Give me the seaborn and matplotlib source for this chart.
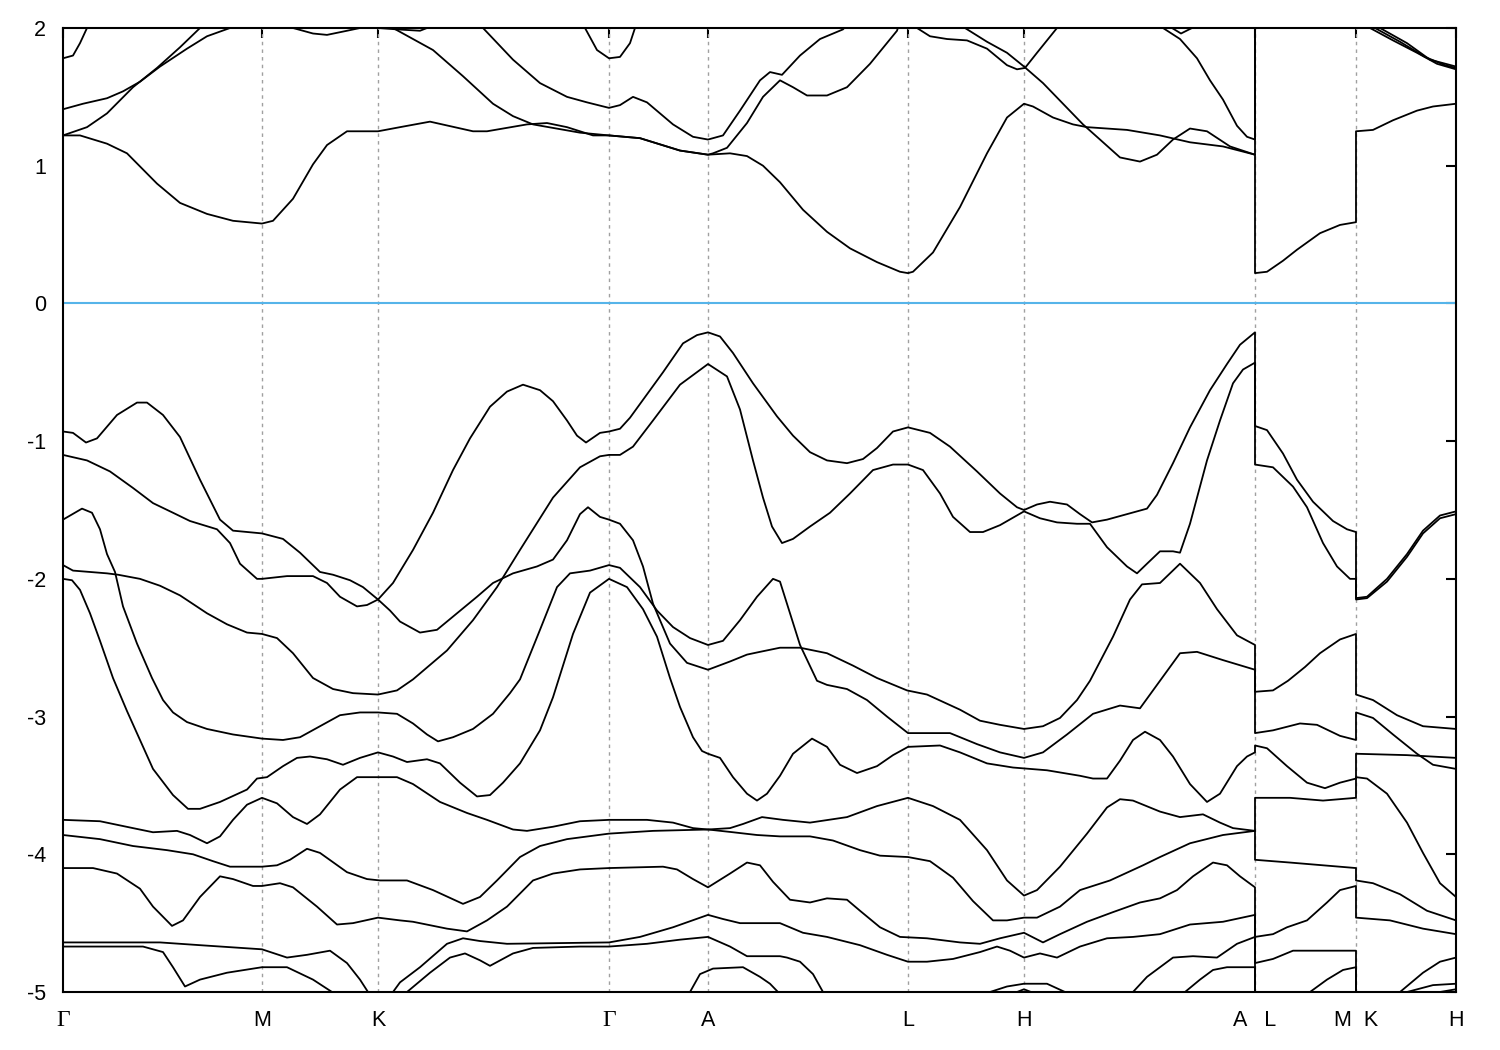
import matplotlib
matplotlib.use("Agg")
import matplotlib.pyplot as plt
import pandas as pd
import seaborn as sns

# ---------------- axis data ----------------
kpoint_pos = [0, 199, 315, 546, 645, 845, 961, 1192, 1293, 1393]
kpoint_labels = ["Γ", "M", "K", "Γ", "A", "L", "H", "A   L", "M  K", "H"]
energy_ticks = [-5, -4, -3, -2, -1, 0, 1, 2]
energy_labels = ["-5", "-4", "-3", "-2", "-1", "0", "1", "2"]

# ---------------- conduction bands (k, E) ----------------
c1_GA = [(0,1.22),(17,1.22),(44,1.16),(64,1.09),(94,0.87),(117,0.73),(144,0.65),(170,0.60),(199,0.58),
         (210,0.60),(230,0.76),(250,1.01),(264,1.15),(284,1.25),(304,1.25),(315,1.25),(337,1.28),(367,1.32),
         (410,1.25),(424,1.25),(464,1.30),(484,1.31),(504,1.28),(530,1.22),(546,1.22),(577,1.20),(617,1.11),
         (645,1.08),(667,1.09),(684,1.07),(700,1.00),(717,0.88),(740,0.68),(764,0.52),(787,0.40),(814,0.30),
         (837,0.23),(845,0.22),(850,0.23),(870,0.37),(897,0.70),(924,1.09),(944,1.35),(961,1.45),(970,1.43),
         (990,1.35),(1010,1.30),(1024,1.28),(1064,1.26),(1097,1.22),(1127,1.17),(1160,1.14),(1192,1.08)]
c1_LM = [(1192,0.22),(1204,0.23),(1220,0.31),(1234,0.39),(1257,0.51),(1277,0.57),(1293,0.59)]
c1_KH = [(1293,1.25),(1310,1.26),(1330,1.33),(1354,1.40),(1370,1.43),(1393,1.45)]
c0 = [(0,1.78),(10,1.80),(17,1.89),(24,2.0),(26,2.05)]
c2a = [(0,1.22),(24,1.28),(44,1.38),(70,1.57),(94,1.71),(117,1.86),(137,2.0),(142,2.05)]
c2b = [(327,2.05),(330,2.0),(370,1.84),(400,1.65),(430,1.45),(450,1.36),(470,1.30),(517,1.24),(546,1.22),
       (577,1.20),(617,1.11),(645,1.08),(650,1.09),(664,1.13),(684,1.31),(700,1.50),(717,1.62),(730,1.57),
       (744,1.51),(764,1.51),(784,1.57),(807,1.74),(834,1.98),(837,2.05)]
c3 = [(0,1.41),(20,1.45),(44,1.49),(60,1.54),(77,1.61),(97,1.72),(124,1.85),(144,1.94),(167,2.0),(173,2.05)]
c4 = [(417,2.05),(420,2.0),(450,1.77),(477,1.60),(504,1.50),(524,1.46),(546,1.42),(557,1.44),(570,1.50),
      (584,1.46),(610,1.30),(630,1.21),(645,1.19),(660,1.22),(677,1.40),(697,1.62),(707,1.68),(719,1.66),
      (737,1.80),(757,1.92),(780,1.99),(787,2.05)]
c5 = [(519,2.05),(522,2.0),(534,1.84),(546,1.78),(557,1.79),(567,1.89),(572,2.0),(574,2.05)]
c6 = [(227,2.05),(230,2.0),(250,1.96),(264,1.95),(284,1.98),(297,2.0),(300,2.05)]
c6b = [(305,2.05),(315,2.0),(334,1.99),(357,1.98),(364,2.0),(367,2.05)]
c7 = [(851,2.05),(854,2.0),(867,1.94),(884,1.92),(904,1.91),(924,1.85),(944,1.73),(954,1.70),(962,1.71),
      (974,1.82),(994,2.0),(997,2.05)]
c8 = [(899,2.05),(902,2.0),(924,1.90),(944,1.82),(961,1.72),(980,1.60),(1000,1.45),(1020,1.30),(1037,1.19),
      (1057,1.06),(1077,1.03),(1094,1.08),(1110,1.19),(1127,1.27),(1144,1.25),(1167,1.14),(1192,1.08),(1192,2.3)]
c9 = [(1097,2.05),(1100,2.0),(1117,1.92),(1134,1.78),(1147,1.62),(1160,1.48),(1174,1.29),(1184,1.21),
      (1192,1.19),(1192,2.3)]
c10 = [(1107,2.05),(1109,2.0),(1118,1.96),(1129,2.0),(1131,2.05)]
t1 = [(1304,2.05),(1307,2.0),(1330,1.91),(1354,1.82),(1374,1.74),(1393,1.70)]
t2 = [(1309,2.05),(1312,2.0),(1337,1.90),(1362,1.79),(1382,1.73),(1393,1.71)]
t3 = [(1314,2.05),(1317,2.0),(1344,1.89),(1367,1.77),(1393,1.72)]

# ---------------- valence bands (k, E) ----------------
v1_GA = [(0,-1.10),(24,-1.14),(47,-1.22),(70,-1.34),(90,-1.45),(110,-1.52),(127,-1.58),(154,-1.64),(167,-1.74),
         (177,-1.89),(194,-2.0),(199,-2.0),(224,-1.98),(250,-1.98),(264,-2.03),(277,-2.13),(294,-2.20),(304,-2.19),
         (315,-2.15),(330,-2.03),(350,-1.79),(370,-1.52),(390,-1.21),(407,-0.98),(427,-0.75),(444,-0.64),(460,-0.59),
         (477,-0.63),(490,-0.71),(504,-0.85),(514,-0.96),(523,-1.01),(537,-0.94),(546,-0.93),(557,-0.91),(567,-0.83),
         (584,-0.66),(600,-0.50),(620,-0.29),(634,-0.23),(645,-0.21),(657,-0.24),(670,-0.36),(690,-0.58),(707,-0.75),
         (714,-0.82),(730,-0.96),(747,-1.08),(764,-1.14),(784,-1.16),(800,-1.13),(814,-1.05),(830,-0.93),(845,-0.90),
         (867,-0.94),(887,-1.04),(914,-1.22),(937,-1.38),(954,-1.48),(961,-1.50),(974,-1.46),(987,-1.44),(1004,-1.46),
         (1017,-1.53),(1029,-1.59),(1044,-1.57),(1064,-1.53),(1084,-1.49),(1094,-1.39),(1110,-1.16),(1127,-0.90),
         (1147,-0.63),(1164,-0.44),(1177,-0.30),(1192,-0.21)]
v1_LM = [(1192,-0.89),(1204,-0.92),(1220,-1.09),(1234,-1.28),(1250,-1.44),(1270,-1.58),(1284,-1.64),(1293,-1.66)]
v1_KH = [(1293,-2.14),(1304,-2.13),(1324,-2.00),(1344,-1.82),(1360,-1.65),(1377,-1.54),(1393,-1.51)]

v2_GA = [(0,-1.90),(10,-1.94),(27,-1.95),(44,-1.96),(55,-1.97),(77,-2.00),(97,-2.05),(117,-2.12),(144,-2.25),
         (164,-2.33),(184,-2.39),(199,-2.40),(214,-2.43),(230,-2.54),(250,-2.72),(270,-2.80),(290,-2.83),(315,-2.84),
         (334,-2.81),(350,-2.73),(384,-2.52),(410,-2.30),(434,-2.06),(457,-1.79),(490,-1.41),(517,-1.19),(537,-1.11),
         (546,-1.10),(557,-1.10),(570,-1.04),(590,-0.85),(617,-0.59),(645,-0.44),(664,-0.53),(677,-0.77),(690,-1.14),
         (700,-1.41),(709,-1.62),(719,-1.74),(730,-1.71),(747,-1.62),(767,-1.52),(787,-1.38),(810,-1.21),(830,-1.17),
         (845,-1.17),(860,-1.21),(877,-1.38),(890,-1.55),(907,-1.66),(920,-1.66),(937,-1.61),(961,-1.51),(977,-1.56),
         (994,-1.59),(1014,-1.60),(1027,-1.60),(1044,-1.77),(1064,-1.91),(1074,-1.96),(1084,-1.89),(1097,-1.80),
         (1110,-1.80),(1117,-1.81),(1127,-1.60),(1144,-1.14),(1157,-0.85),(1170,-0.58),(1180,-0.48),(1192,-0.43)]
v2_LM = [(1192,-1.17),(1210,-1.19),(1230,-1.33),(1244,-1.48),(1260,-1.74),(1274,-1.91),(1287,-2.0),(1293,-2.0)]
v2_KH = [(1293,-2.15),(1304,-2.14),(1324,-2.02),(1344,-1.84),(1360,-1.67),(1377,-1.56),(1393,-1.53)]

v3_GA = [(0,-0.93),(10,-0.94),(23,-1.01),(34,-0.98),(54,-0.81),(74,-0.72),(84,-0.72),(100,-0.81),(117,-0.97),
         (137,-1.28),(157,-1.57),(170,-1.65),(199,-1.67),(220,-1.71),(237,-1.81),(257,-1.95),(270,-1.97),(287,-2.01),
         (300,-2.06),(315,-2.15),(327,-2.23),(337,-2.31),(357,-2.39),(374,-2.37),(394,-2.25),(414,-2.13),(430,-2.03),
         (450,-1.96),(474,-1.91),(490,-1.86),(504,-1.72),(517,-1.53),(525,-1.48),(537,-1.55),(546,-1.57),(557,-1.60),
         (570,-1.72),(580,-1.91),(590,-2.18),(597,-2.30),(607,-2.47),(624,-2.61),(645,-2.66),(667,-2.60),(684,-2.55),
         (697,-2.53),(717,-2.50),(737,-2.50),(764,-2.54),(790,-2.63),(814,-2.72),(844,-2.81),(864,-2.84),(897,-2.95),
         (917,-3.03),(937,-3.06),(961,-3.09),(980,-3.07),(997,-3.01),(1014,-2.88),(1027,-2.74),(1050,-2.42),
         (1067,-2.15),(1079,-2.04),(1097,-2.03),(1117,-1.89),(1137,-2.03),(1154,-2.22),(1174,-2.41),(1192,-2.48)]
v3_LM = [(1192,-2.82),(1210,-2.81),(1225,-2.74),(1242,-2.64),(1257,-2.54),(1277,-2.44),(1293,-2.40)]
v3_KH = [(1293,-2.84),(1310,-2.88),(1334,-2.99),(1360,-3.07),(1393,-3.09)]

v4_GA = [(0,-1.57),(19,-1.49),(29,-1.52),(37,-1.64),(44,-1.82),(52,-1.95),(60,-2.20),(74,-2.47),(89,-2.72),
         (100,-2.88),(110,-2.97),(124,-3.04),(144,-3.09),(170,-3.13),(199,-3.16),(220,-3.17),(237,-3.15),(257,-3.07),
         (277,-2.99),(297,-2.97),(315,-2.97),(334,-2.98),(350,-3.05),(364,-3.13),(375,-3.18),(390,-3.15),(410,-3.09),
         (430,-2.98),(447,-2.83),(457,-2.73),(477,-2.37),(494,-2.06),(507,-1.96),(527,-1.94),(546,-1.90),(557,-1.92),
         (577,-2.06),(594,-2.23),(610,-2.35),(627,-2.43),(645,-2.48),(660,-2.45),(677,-2.30),(694,-2.13),(710,-2.00),
         (717,-2.02),(727,-2.25),(737,-2.48),(754,-2.74),(764,-2.77),(784,-2.80),(804,-2.88),(824,-3.00),(845,-3.12),
         (887,-3.12),(914,-3.20),(937,-3.26),(961,-3.30),(980,-3.26),(1004,-3.13),(1030,-2.98),(1057,-2.92),
         (1077,-2.94),(1087,-2.84),(1097,-2.74),(1117,-2.54),(1134,-2.53),(1160,-2.59),(1192,-2.66)]
v4_LM = [(1192,-3.12),(1210,-3.10),(1237,-3.05),(1254,-3.06),(1277,-3.14),(1293,-3.17)]
v4_KH = [(1293,-2.97),(1310,-3.01),(1330,-3.13),(1354,-3.27),(1370,-3.35),(1393,-3.38)]

v5_GA = [(0,-2.00),(9,-2.01),(17,-2.08),(27,-2.25),(37,-2.45),(50,-2.72),(64,-2.96),(77,-3.17),(90,-3.38),
         (110,-3.57),(125,-3.67),(137,-3.67),(157,-3.62),(184,-3.53),(194,-3.45),(204,-3.44),(220,-3.36),(234,-3.30),
         (247,-3.29),(264,-3.31),(280,-3.35),(297,-3.30),(315,-3.26),(330,-3.29),(344,-3.33),(364,-3.31),(377,-3.34),
         (397,-3.48),(414,-3.58),(427,-3.57),(440,-3.48),(457,-3.34),(477,-3.10),(490,-2.86),(510,-2.40),(527,-2.10),
         (546,-2.00),(564,-2.06),(580,-2.22),(594,-2.42),(607,-2.72),(617,-2.93),(630,-3.15),(639,-3.25),(645,-3.27),
         (657,-3.30),(670,-3.44),(684,-3.56),(694,-3.61),(704,-3.56),(717,-3.43),(730,-3.27),(749,-3.16),(764,-3.22),
         (777,-3.35),(794,-3.41),(814,-3.36),(830,-3.28),(845,-3.22),(877,-3.21),(897,-3.26),(924,-3.34),(950,-3.37),
         (984,-3.39),(1017,-3.43),(1030,-3.45),(1044,-3.45),(1057,-3.32),(1070,-3.17),(1082,-3.11),(1097,-3.17),
         (1110,-3.29),(1127,-3.49),(1144,-3.62),(1157,-3.56),(1174,-3.36),(1184,-3.29),(1192,-3.26)]
v5_LM = [(1192,-3.21),(1204,-3.23),(1224,-3.36),(1244,-3.48),(1262,-3.52),(1277,-3.48),(1293,-3.45)]
v5_KH = [(1293,-3.27),(1344,-3.28),(1393,-3.30)]

v6_GA = [(0,-3.75),(37,-3.76),(70,-3.81),(90,-3.84),(114,-3.83),(127,-3.86),(144,-3.92),(157,-3.87),(170,-3.75),
         (184,-3.64),(199,-3.59),(214,-3.63),(230,-3.73),(244,-3.78),(257,-3.71),(277,-3.53),(294,-3.44),(317,-3.44),
         (334,-3.44),(350,-3.49),(377,-3.62),(404,-3.70),(424,-3.75),(450,-3.82),(464,-3.83),(490,-3.80),(517,-3.76),
         (546,-3.75),(584,-3.75),(610,-3.77),(630,-3.81),(645,-3.82),(667,-3.81),(680,-3.78),(699,-3.73),(720,-3.75),
         (747,-3.77),(784,-3.73),(814,-3.65),(845,-3.59),(870,-3.65),(897,-3.75),(924,-3.97),(944,-4.19),(961,-4.30),
         (974,-4.26),(997,-4.09),(1024,-3.85),(1044,-3.66),(1057,-3.60),(1070,-3.61),(1097,-3.69),(1117,-3.73),
         (1140,-3.71),(1157,-3.77),(1170,-3.81),(1192,-3.83)]
v6_LM = [(1192,-3.59),(1227,-3.59),(1260,-3.61),(1293,-3.59)]
v6_KH = [(1293,-3.44),(1304,-3.45),(1324,-3.56),(1344,-3.77),(1360,-3.99),(1377,-4.21),(1393,-4.31)]

v7_GA = [(0,-3.86),(37,-3.89),(70,-3.94),(104,-3.97),(130,-4.00),(150,-4.05),(167,-4.09),(199,-4.09),(214,-4.08),
         (227,-4.04),(244,-3.96),(257,-3.99),(284,-4.13),(304,-4.18),(317,-4.19),(344,-4.19),(370,-4.26),(400,-4.36),
         (417,-4.31),(434,-4.19),(457,-4.02),(477,-3.94),(504,-3.89),(546,-3.85),(590,-3.83),(645,-3.82),(670,-3.84),
         (694,-3.86),(717,-3.87),(747,-3.87),(770,-3.90),(797,-3.97),(817,-4.01),(845,-4.02),(867,-4.05),(890,-4.17),
         (910,-4.34),(930,-4.48),(944,-4.48),(961,-4.46),(974,-4.46),(997,-4.38),(1017,-4.26),(1047,-4.19),
         (1080,-4.08),(1097,-4.02),(1127,-3.92),(1160,-3.86),(1192,-3.83)]
v7_LM = [(1192,-4.04),(1227,-4.06),(1260,-4.08),(1293,-4.10)]
v7_KH = [(1293,-4.19),(1310,-4.21),(1337,-4.29),(1364,-4.41),(1393,-4.48)]

v8_GA = [(0,-4.10),(30,-4.10),(54,-4.14),(77,-4.25),(90,-4.38),(109,-4.52),(120,-4.48),(137,-4.31),(157,-4.16),
         (170,-4.18),(190,-4.23),(199,-4.23),(217,-4.21),(230,-4.24),(254,-4.38),(274,-4.51),(290,-4.50),(315,-4.46),
         (337,-4.48),(350,-4.49),(384,-4.54),(404,-4.56),(424,-4.48),(444,-4.38),(470,-4.19),(490,-4.14),(517,-4.11),
         (546,-4.10),(600,-4.09),(614,-4.11),(630,-4.18),(645,-4.24),(667,-4.14),(684,-4.06),(697,-4.08),(710,-4.20),
         (727,-4.33),(747,-4.35),(764,-4.32),(784,-4.33),(797,-4.41),(817,-4.53),(837,-4.60),(864,-4.61),(897,-4.64),
         (917,-4.65),(937,-4.61),(961,-4.57),(980,-4.64),(997,-4.58),(1024,-4.49),(1050,-4.42),(1077,-4.35),
         (1097,-4.32),(1114,-4.26),(1130,-4.16),(1150,-4.06),(1164,-4.08),(1177,-4.16),(1192,-4.24)]
v8_LM = [(1192,-4.60),(1210,-4.58),(1224,-4.53),(1244,-4.48),(1264,-4.35),(1277,-4.26),(1293,-4.23)]
v8_KH = [(1293,-4.46),(1327,-4.48),(1360,-4.54),(1393,-4.58)]

v9_GA = [(323,-5.05),(330,-5.0),(337,-4.93),(357,-4.82),(384,-4.65),(400,-4.61),(417,-4.63),(444,-4.65),
         (546,-4.64),(577,-4.60),(610,-4.53),(645,-4.44),(660,-4.47),(677,-4.50),(717,-4.50),(740,-4.57),(764,-4.60),
         (797,-4.66),(824,-4.73),(845,-4.78),(864,-4.78),(890,-4.76),(917,-4.71),(934,-4.67),(947,-4.70),(961,-4.75),
         (977,-4.72),(994,-4.75),(1017,-4.67),(1044,-4.61),(1070,-4.60),(1097,-4.58),(1127,-4.51),(1160,-4.49),
         (1192,-4.44)]
v9_LM = [(1192,-4.79),(1210,-4.76),(1230,-4.70),(1293,-4.70)]
v9_KH = [(1293,-5.3),(1333,-5.04),(1337,-5.0),(1360,-4.86),(1377,-4.78),(1393,-4.75)]

v10_GA = [(1067,-5.05),(1070,-5.0),(1084,-4.89),(1097,-4.82),(1110,-4.75),(1130,-4.74),(1154,-4.75),(1174,-4.65),
          (1192,-4.60)]
v10_LM = [(1192,-5.3),(1242,-5.04),(1247,-5.0),(1264,-4.91),(1280,-4.84),(1293,-4.82)]
v10_KH = [(1293,-5.3),(1339,-5.03),(1344,-5.0),(1370,-4.95),(1393,-4.94)]

v11_GA = [(1119,-5.05),(1122,-5.0),(1137,-4.91),(1150,-4.84),(1164,-4.82),(1192,-4.82)]
v11_LM = [(1192,-5.3),(1293,-5.3)]
v11_KH = [(1293,-5.3),(1373,-5.03),(1377,-5.0),(1393,-4.98)]

vj = [(0,-4.64),(97,-4.64),(137,-4.66),(199,-4.69),(224,-4.75),(244,-4.73),(267,-4.70),(284,-4.79),(297,-4.91),
      (305,-5.0),(309,-5.05)]
vk = [(0,-4.67),(80,-4.67),(100,-4.71),(110,-4.82),(122,-4.96),(137,-4.91),(164,-4.86),(199,-4.82),(224,-4.82),
      (250,-4.91),(269,-5.0),(273,-5.03)]
vl = [(340,-5.03),(344,-5.0),(367,-4.86),(387,-4.75),(402,-4.72),(417,-4.77),(427,-4.81),(450,-4.72),(470,-4.68),
      (517,-4.67),(546,-4.67),(584,-4.65),(617,-4.62),(645,-4.60),(667,-4.67),(684,-4.74),(717,-4.74),(724,-4.75),
      (737,-4.78),(750,-4.87),(760,-5.0),(763,-5.03)]
vm = [(623,-5.03),(627,-5.0),(637,-4.87),(650,-4.83),(680,-4.82),(697,-4.89),(707,-4.94),(715,-5.0),(718,-5.03)]
vn = [(924,-5.03),(927,-5.0),(944,-4.96),(961,-4.94),(984,-4.94),(1002,-5.0),(1005,-5.03)]
vn2 = [(951,-5.02),(954,-5.0),(961,-4.98),(968,-5.0),(971,-5.02)]

bands = {
    "c1": c1_GA + c1_LM + c1_KH, "c0": c0, "c2a": c2a, "c2b": c2b, "c3": c3, "c4": c4, "c5": c5,
    "c6": c6, "c6b": c6b, "c7": c7, "c8": c8, "c9": c9, "c10": c10, "t1": t1, "t2": t2, "t3": t3,
    "v1": v1_GA + v1_LM + v1_KH, "v2": v2_GA + v2_LM + v2_KH, "v3": v3_GA + v3_LM + v3_KH,
    "v4": v4_GA + v4_LM + v4_KH, "v5": v5_GA + v5_LM + v5_KH, "v6": v6_GA + v6_LM + v6_KH,
    "v7": v7_GA + v7_LM + v7_KH, "v8": v8_GA + v8_LM + v8_KH, "v9": v9_GA + v9_LM + v9_KH,
    "v10": v10_GA + v10_LM + v10_KH, "v11": v11_GA + v11_LM + v11_KH,
    "vj": vj, "vk": vk, "vl": vl, "vm": vm, "vn": vn, "vn2": vn2,
}

rows = []
for name, pts in bands.items():
    for i, (k, e) in enumerate(pts):
        rows.append((name, i, k, e))
df = pd.DataFrame(rows, columns=["band", "order", "k", "E"])

# ---------------- plotting ----------------
sns.set_theme(style="white")
plt.rcParams["font.family"] = ["Liberation Sans", "DejaVu Sans"]
plt.rcParams["axes.unicode_minus"] = False

fig = plt.figure(figsize=(15, 10.5), dpi=100)
ax = fig.add_axes([63 / 1500, 1 - 992 / 1050, (1456 - 63) / 1500, (992 - 28) / 1050])

for xp in kpoint_pos[1:-1]:
    ax.axvline(xp, color="#a0a0a0", lw=1.0, ls=(0, (2.5, 3)), zorder=1)
ax.axhline(0, color="#56b4e9", lw=1.5, zorder=2)

sns.lineplot(data=df, x="k", y="E", units="band", estimator=None, sort=False,
             color="black", lw=1.3, ax=ax, legend=False, zorder=3,
             solid_joinstyle="round", solid_capstyle="round")

ax.set_xlim(kpoint_pos[0], kpoint_pos[-1])
ax.set_ylim(-5, 2)
ax.set_xticks(kpoint_pos)
ax.set_xticklabels(kpoint_labels)
ax.set_yticks(energy_ticks)
ax.set_yticklabels(energy_labels)
ax.set_xlabel("")
ax.set_ylabel("")
ax.tick_params(axis="both", direction="in", length=7, width=1.5, top=True, right=True,
               labelsize=15.5, colors="black")
ax.tick_params(axis="x", pad=13)
ax.tick_params(axis="y", pad=12)
for lbl in ax.get_xticklabels():
    if lbl.get_text() == "Γ":
        lbl.set_fontfamily(["Liberation Serif", "DejaVu Serif"])
        lbl.set_fontsize(17)
for sp in ax.spines.values():
    sp.set_linewidth(1.5)
    sp.set_color("black")
ax.grid(False)

fig.savefig("out.png", dpi=100)
